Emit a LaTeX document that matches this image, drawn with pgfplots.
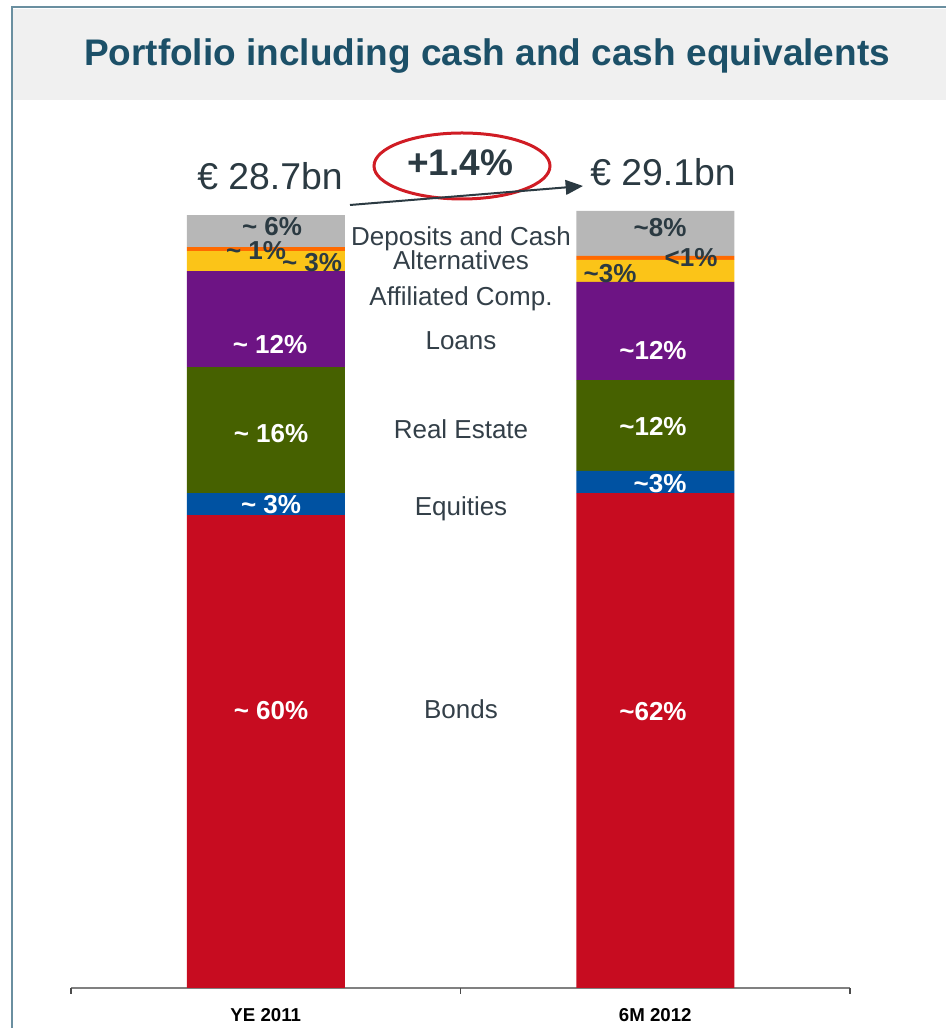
\documentclass[border=0pt]{standalone}
\usepackage{pgfplots}
\pgfplotsset{compat=1.18}
\usepackage{fontspec}
\setmainfont{Liberation Sans}
\usetikzlibrary{arrows.meta}
\definecolor{titleteal}{HTML}{1C5068}
\definecolor{frameblue}{HTML}{6A8FA0}
\definecolor{titlebg}{HTML}{F0F0F0}
\definecolor{darktxt}{HTML}{2B3A42}
\definecolor{midtxt}{HTML}{333F48}
\definecolor{cgray}{HTML}{B7B7B7}
\definecolor{corange}{HTML}{FF6A00}
\definecolor{cyellow}{HTML}{FBC418}
\definecolor{cpurple}{HTML}{6D1484}
\definecolor{cgreen}{HTML}{466100}
\definecolor{cblue}{HTML}{0052A2}
\definecolor{cred}{HTML}{C70C20}
\definecolor{ellred}{HTML}{D01C24}
\definecolor{axgray}{HTML}{808080}
\begin{document}
\begin{tikzpicture}[x=0.75pt,y=0.75pt]
\path[use as bounding box] (0,0) rectangle (946,1028);
% frame and title box
\fill[titlebg] (13,928) rectangle (946,1019);
\draw[frameblue, line width=1.5pt] (12,0) -- (12,1021) -- (946,1021);
\node[anchor=base, font=\fontsize{27.75}{30}\selectfont\bfseries, text=titleteal] at (487,962) {Portfolio including cash and cash equivalents};
\begin{axis}[
  at={(53.25pt,30pt)}, anchor=south west,
  scale only axis, width=584.25pt, height=581.25pt,
  xmin=-0.5, xmax=1.5, ymin=0, ymax=100,
  clip=false,
  ybar stacked, bar width=118.5pt,
  axis x line=bottom, axis y line=none,
  axis line style={draw=axgray, line width=1.2pt, -},
  xtick={0,1}, xticklabels={YE 2011, 6M 2012},
  major tick length=0pt,
  extra x ticks={-0.5,0.5,1.5}, extra x tick labels={},
  extra x tick style={major tick length=4.5pt, tick align=outside, tick style={draw=black!70, line width=0.8pt}},
  xticklabel style={font=\fontsize{14}{16}\selectfont\bfseries, text=black, yshift=-12pt},
]
\addplot[fill=cred, draw=none] coordinates {(0,61.0) (1,63.87)};
\addplot[fill=cblue, draw=none] coordinates {(0,2.84) (1,2.84)};
\addplot[fill=cgreen, draw=none] coordinates {(0,16.26) (1,11.74)};
\addplot[fill=cpurple, draw=none] coordinates {(0,12.39) (1,12.65)};
\addplot[fill=cyellow, draw=none] coordinates {(0,2.58) (1,2.84)};
\addplot[fill=corange, draw=none] coordinates {(0,0.52) (1,0.52)};
\addplot[fill=cgray, draw=none] coordinates {(0,4.13) (1,5.81)};
\end{axis}
% amounts
\node[anchor=base, font=\fontsize{28}{30}\selectfont, text=darktxt] at (270,838) {€ 28.7bn};
\node[anchor=base, font=\fontsize{28}{30}\selectfont, text=darktxt] at (663,842) {€ 29.1bn};
\node[anchor=base, font=\fontsize{27.75}{30}\selectfont\bfseries, text=darktxt] at (460,852) {+1.4\%};
\draw[ellred, line width=2.25pt] (462,862) ellipse [x radius=88, y radius=33];
\draw[darktxt, line width=1.5pt, -{Triangle[length=13pt,width=11pt]}] (350,823) -- (583,842);
% category names
\begin{scope}[every node/.style={anchor=base, font=\fontsize{19.5}{21}\selectfont, text=midtxt}]
\node at (461,782) {Deposits and Cash};
\node at (461,758) {Alternatives};
\node at (461,722) {Affiliated Comp.};
\node at (461,678) {Loans};
\node at (461,589) {Real Estate};
\node at (461,512) {Equities};
\node at (461,309) {Bonds};
\end{scope}
% bar labels
\begin{scope}[every node/.style={anchor=base, font=\fontsize{19.5}{21}\selectfont\bfseries}]
\node[text=darktxt] at (272,792) {\textasciitilde{} 6\%};
\node[text=darktxt] at (256,768) {\textasciitilde{} 1\%};
\node[text=darktxt] at (312,756) {\textasciitilde{} 3\%};
\node[text=white] at (270,674) {\textasciitilde{} 12\%};
\node[text=white] at (271,585) {\textasciitilde{} 16\%};
\node[text=white] at (271,514) {\textasciitilde{} 3\%};
\node[text=white] at (271,308) {\textasciitilde{} 60\%};
\node[text=darktxt] at (660,791) {\textasciitilde{}8\%};
\node[text=darktxt] at (691,761) {<1\%};
\node[text=darktxt] at (610,745) {\textasciitilde{}3\%};
\node[text=white] at (653,668) {\textasciitilde{}12\%};
\node[text=white] at (653,592) {\textasciitilde{}12\%};
\node[text=white] at (660,535) {\textasciitilde{}3\%};
\node[text=white] at (653,307) {\textasciitilde{}62\%};
\end{scope}
\end{tikzpicture}
\end{document}
